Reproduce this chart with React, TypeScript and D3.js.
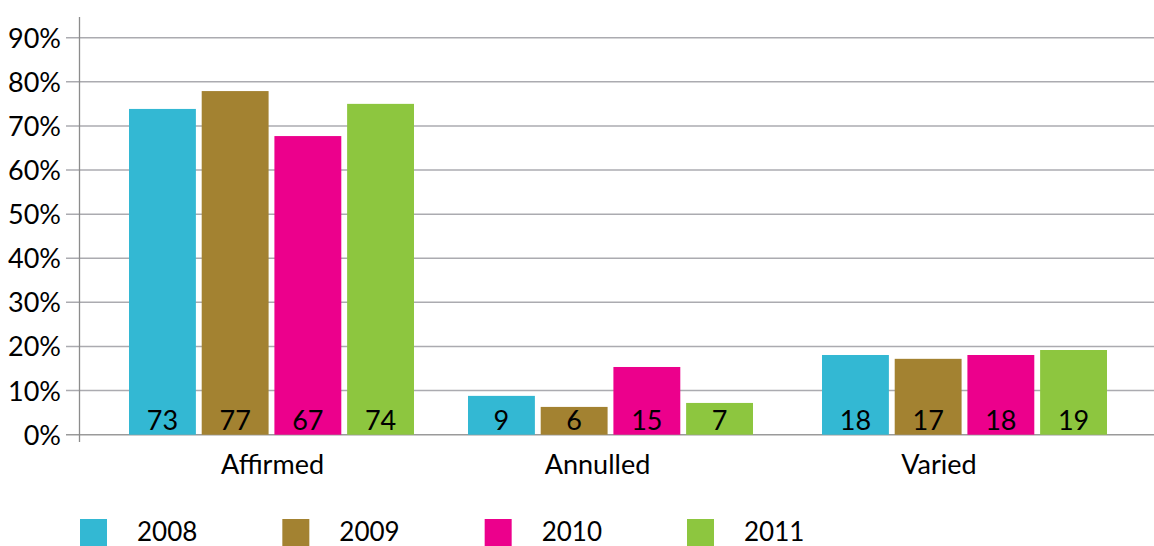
import React from "react";
import * as d3 from "d3";

const categories = ["Affirmed", "Annulled", "Varied"];
const years = ["2008", "2009", "2010", "2011"];
const colors = ["#33B8D3", "#A38231", "#EC008C", "#8DC63F"];
// bar heights (percent)
const values2008 = [73.85, 8.8, 18.07];
const values2009 = [77.9, 6.3, 17.2];
const values2010 = [67.7, 15.35, 18.07];
const values2011 = [75.0, 7.2, 19.2];
// printed labels
const labels2008 = ["73", "9", "18"];
const labels2009 = ["77", "6", "17"];
const labels2010 = ["67", "15", "18"];
const labels2011 = ["74", "7", "19"];
const yTicks = [0, 10, 20, 30, 40, 50, 60, 70, 80, 90];

const seriesValues = [values2008, values2009, values2010, values2011];
const seriesLabels = [labels2008, labels2009, labels2010, labels2011];

const W = 1154;
const H = 546;
const FONT = "Lato, 'Open Sans', sans-serif";

export default function App() {
  const y = d3.scaleLinear().domain([0, 90]).range([434.7, 37.7]);
  // group left edges as laid out in the source chart
  const x0 = d3.scaleOrdinal<string, number>().domain(categories).range([129, 468, 822]);
  const groupWidth = 285;
  const x1 = d3
    .scaleBand<string>()
    .domain(years)
    .range([0, groupWidth])
    .paddingInner(0.08);
  const labelX = d3.scaleOrdinal<string, number>().domain(categories).range([272.5, 597.5, 939]);
  const legendX = d3.scalePoint<string>().domain(years).range([80, 687]);

  const axisX = 79.5;

  return (
    <svg
      width={W}
      height={H}
      style={{ position: "absolute", left: 0, top: 0, background: "#fff" }}
    >
      {/* gridlines + tick marks */}
      {yTicks.map((t) => (
        <line
          key={"g" + t}
          x1={66}
          x2={W}
          y1={y(t)}
          y2={y(t)}
          stroke={t === 0 ? "#9a9a9a" : "#ababb0"}
          strokeWidth={1.5}
        />
      ))}
      {/* y axis */}
      <line x1={axisX} x2={axisX} y1={17} y2={442} stroke="#8c8c8c" strokeWidth={1.3} />
      {/* tick labels */}
      {yTicks.map((t) => (
        <text
          key={"t" + t}
          x={61}
          y={y(t) + 10}
          textAnchor="end"
          fontFamily={FONT}
          fontSize={27}
          fill="#000"
        >
          {t + "%"}
        </text>
      ))}
      {/* bars */}
      {categories.map((c, ci) => (
        <g key={c} transform={`translate(${x0(c)},0)`}>
          {years.map((yr, si) => {
            const v = seriesValues[si][ci];
            const bx = x1(yr)!;
            return (
              <g key={yr}>
                <rect
                  x={bx}
                  y={y(v)}
                  width={x1.bandwidth()}
                  height={y(0) - y(v)}
                  fill={colors[si]}
                />
                <text
                  x={bx + x1.bandwidth() / 2}
                  y={430}
                  textAnchor="middle"
                  fontFamily={FONT}
                  fontSize={27}
                  fill="#000"
                >
                  {seriesLabels[si][ci]}
                </text>
              </g>
            );
          })}
        </g>
      ))}
      {/* category labels */}
      {categories.map((c) => (
        <text
          key={"c" + c}
          x={labelX(c)}
          y={474}
          textAnchor="middle"
          fontFamily={FONT}
          fontSize={27}
          fill="#000"
        >
          {c}
        </text>
      ))}
      {/* legend */}
      {years.map((yr, i) => (
        <g key={"l" + yr} transform={`translate(${legendX(yr)},519)`}>
          <rect x={0} y={0} width={27} height={27} fill={colors[i]} />
          <text x={57} y={22} fontFamily={FONT} fontSize={26} fill="#000">
            {yr}
          </text>
        </g>
      ))}
    </svg>
  );
}
